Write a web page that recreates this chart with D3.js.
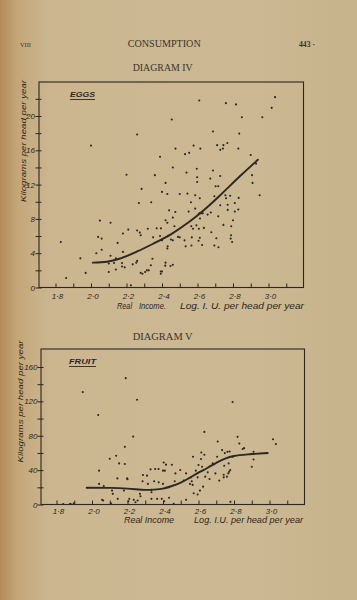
<!DOCTYPE html>
<html><head><meta charset="utf-8">
<script src="https://cdn.jsdelivr.net/npm/d3@7"></script>
<style>
html,body{margin:0;padding:0;background:#cbb791;}
svg{display:block;}
</style></head><body>
<svg id="page" width="357" height="600"></svg>
<script>
// ---------- data ----------
const xMinorTicks = [1.8,1.9,2.0,2.1,2.2,2.3,2.4,2.5,2.6,2.7,2.8,2.9,3.0,3.1];
const xLabelTicks = [1.8,2.0,2.2,2.4,2.6,2.8,3.0];

const eggsYMinor = [0,2,4,6,8,10,12,14,16,18,20,22];
const eggsYLabels = [0,4,8,12,16,20];
const fruitYMinor = [0,20,40,60,80,100,120,140,160];
const fruitYLabels = [0,40,80,120,160];

const eggsPoints = [
[1.83,5.3],[1.86,1.1],[1.94,3.4],[1.97,1.7],[2.03,4.0],[2.05,7.8],[2.04,5.9],[2.06,5.7],[2.06,4.4],[2.10,2.8],
[2.10,1.8],[2.11,3.7],[2.11,7.55],[2.13,2.85],[2.14,2.1],[2.15,5.2],[2.14,3.4],[2.175,2.85],[2.175,2.45],[2.19,2.35],
[2.18,4.15],[2.18,6.3],[2.21,6.75],[2.225,0.25],[2.235,2.7],[2.255,2.9],[2.26,3.1],[2.26,6.65],[2.27,9.85],[2.285,11.5],
[2.275,6.4],[2.28,6.1],[2.28,1.7],[2.29,1.6],[2.305,1.8],[2.315,2.0],[2.325,2.0],
[2.0,16.55],[2.20,13.15],[2.26,17.85],[2.455,19.6],[2.61,21.8],[2.76,21.5],[2.817,21.35],[2.85,19.85],[2.965,19.85],
[3.018,20.95],[3.037,22.2],[2.339,9.95],[2.346,3.35],[2.337,2.6],[2.32,6.85],[2.35,5.85],[2.37,6.9],[2.36,13.1],
[2.389,15.25],[2.394,6.9],[2.389,6.0],[2.40,5.5],[2.393,1.87],[2.40,1.87],[2.393,1.6],[2.40,11.15],[2.42,12.2],
[2.43,10.9],[2.42,7.85],[2.43,7.55],[2.432,4.8],[2.43,4.55],[2.42,2.9],[2.418,2.55],[2.45,5.6],[2.44,9.0],[2.448,2.5],
[2.461,2.65],[2.461,14.0],[2.461,8.15],[2.475,8.8],[2.47,7.15],[2.461,5.5],[2.476,16.2],[2.49,5.9],[2.50,5.85],
[2.50,10.9],[2.53,15.55],[2.553,15.7],[2.538,13.4],[2.543,10.95],[2.527,5.5],[2.533,4.8],[2.55,8.85],[2.563,9.95],
[2.565,7.15],[2.575,6.85],[2.568,5.85],[2.566,4.9],[2.578,16.55],[2.587,10.75],[2.587,9.2],[2.596,13.85],[2.598,12.85],
[2.598,12.3],[2.594,7.25],[2.608,6.85],[2.606,5.45],[2.613,5.8],[2.61,8.65],[2.62,8.65],[2.63,8.65],[2.614,8.05],
[2.616,16.2],[2.613,10.4],[2.626,4.95],[2.636,6.95],[2.657,8.5],[2.675,8.75],[2.672,12.7],[2.678,6.45],[2.687,13.65],
[2.687,18.2],[2.695,10.65],[2.695,4.9],[2.702,11.8],[2.717,11.8],[2.706,5.75],[2.711,16.6],[2.717,8.3],[2.718,4.7],
[2.728,13.0],[2.728,16.05],[2.728,9.6],[2.743,16.2],[2.746,16.6],[2.746,7.3],[2.757,10.75],[2.784,10.7],[2.761,10.4],
[2.768,16.85],[2.77,9.65],[2.77,9.05],[2.789,6.1],[2.787,5.7],[2.79,7.15],[2.80,7.85],[2.795,5.3],[2.81,9.85],
[2.81,8.85],[2.832,10.45],[2.83,9.1],[2.83,16.2],[2.835,17.95],[2.90,15.45],[2.907,13.1],[2.91,12.2],[2.93,14.45],
[2.95,10.75]
];
const eggsCurve = [[2.01,2.9],[2.09,3.0],[2.16,3.35],[2.26,4.2],[2.35,5.1],[2.45,6.2],[2.55,7.6],[2.64,9.1],[2.73,10.8],[2.84,13.0],[2.94,14.9]];

const fruitPoints = [
[1.948,130.8],[2.19,147],[2.254,121.9],[2.035,104.2],[2.792,119.2],[2.232,79],[2.633,84.5],[2.82,78.7],[3.02,76],
[2.83,71],[2.857,65.6],[3.036,70.3],[2.708,73.3],[2.733,63.3],[2.748,59.8],[2.763,61.3],[2.775,61.7],[2.849,64.5],
[2.91,61.3],[2.91,52.4],[2.90,44],[2.792,55.6],[2.616,60.5],[2.633,57.9],[2.614,52.9],[2.569,55.6],[2.60,45.9],
[2.62,44],[2.68,47.8],[2.705,55.6],[2.652,37.4],[2.585,39.4],[2.638,32.4],[2.595,31.6],[2.558,31.6],[2.562,27],
[2.552,24],[2.567,22.8],[2.53,36.2],[2.517,27.8],[2.626,20.8],[2.608,16.2],[2.595,11.6],[2.662,29.7],[2.695,36.2],
[2.717,27.8],[2.742,34.7],[2.742,31.6],[2.76,32.4],[2.768,36.2],[2.773,38.2],[2.779,40.2],[2.77,47.8],[2.745,45.1],
[2.78,3.1],[2.47,36.2],[2.45,46.3],[2.497,40.1],[2.466,27],[2.404,48.8],[2.417,46.4],[2.40,39.4],[2.41,39.4],
[2.375,41.3],[2.356,41.3],[2.33,40.9],[2.31,33.6],[2.287,34.4],[2.285,27],[2.315,24],[2.35,27],[2.376,25.8],[2.40,24],
[2.434,20],[2.335,17],[2.335,14.2],[2.27,12.4],[2.273,9.6],[2.245,2.7],[2.335,6.6],[2.367,6.6],[2.393,6.6],[2.407,3.8],
[2.434,7.8],[2.46,0.8],[2.53,5.4],[2.573,13.1],[2.235,5.4],[2.257,4.6],[2.205,3.8],[2.21,6.6],[2.18,16.2],[2.198,30.4],
[2.20,29.3],[2.185,47.1],[2.153,47.8],[2.185,67.1],[2.136,56.7],[2.10,53.2],[2.143,30.4],[2.113,16.2],[2.117,12.4],
[2.145,6.6],[2.107,1.5],[2.057,5.4],[2.063,4.6],[2.04,39.4],[2.04,24],[2.066,21.6],[1.879,0.8],[1.897,1.5],[1.838,0.5],
[1.876,0.5]
];
const fruitCurve = [[1.97,19.5],[2.1,19.3],[2.2,18.5],[2.3,17],[2.35,17.3],[2.4,18.5],[2.45,21.5],[2.5,25.5],[2.55,31],[2.6,37],[2.65,42.5],[2.7,48.5],[2.75,53.5],[2.8,56.5],[2.9,58.7],[2.99,60]];

// ---------- drawing ----------
const ink = "#2b2722";
const svg = d3.select("#page");
const defs = svg.append("defs");
const grad = defs.append("linearGradient").attr("id","paper").attr("x1","0").attr("x2","1").attr("y1","0").attr("y2","0");
grad.append("stop").attr("offset","0").attr("stop-color","#b38b58");
grad.append("stop").attr("offset","0.05").attr("stop-color","#c4a778");
grad.append("stop").attr("offset","0.14").attr("stop-color","#cbb690");
grad.append("stop").attr("offset","0.7").attr("stop-color","#ccb993");
grad.append("stop").attr("offset","1").attr("stop-color","#c6b28b");
svg.append("rect").attr("width",357).attr("height",600).attr("fill","url(#paper)");

const serif = "'Liberation Serif','DejaVu Serif',serif";
const sans = "'Liberation Sans','DejaVu Sans',sans-serif";

function txt(x,y,s,opts){
  const t = svg.append("text").attr("x",x).attr("y",y).text(s)
    .attr("fill", opts.fill||ink).attr("font-family", opts.family||serif)
    .attr("font-size", opts.size||9).attr("text-anchor", opts.anchor||"start");
  if(opts.italic) t.attr("font-style","italic");
  if(opts.weight) t.attr("font-weight",opts.weight);
  if(opts.len) t.attr("textLength",opts.len).attr("lengthAdjust","spacingAndGlyphs");
  return t;
}

// header
txt(20,46.5,"VIII",{size:7,len:11,fill:"#3a342c"});
txt(127.7,47,"CONSUMPTION",{size:9.5,len:73,fill:"#3a342c"});
txt(299,47,"443 ·",{size:9,len:16,weight:"bold",fill:"#3a342c"});
txt(132.7,70.5,"DIAGRAM IV",{size:9.5,len:60,fill:"#3a342c"});
txt(132.7,339.5,"DIAGRAM V",{size:9.5,len:60,fill:"#3a342c"});

function fmtX(d){ return xLabelTicks.some(v=>Math.abs(v-d)<1e-6) ? d.toFixed(1).replace(".","·") : ""; }

function drawChart(cfg){
  const g = svg.append("g");
  const x = d3.scaleLinear().domain([1.8,3.0]).range([cfg.x18, cfg.x30]);
  const y = d3.scaleLinear().domain([0,cfg.yTop]).range([cfg.y0, cfg.yTopPx]);
  // box
  g.append("rect").attr("x",cfg.left).attr("y",cfg.top)
    .attr("width",cfg.right-cfg.left).attr("height",cfg.y0-cfg.top)
    .attr("fill","none").attr("stroke",ink).attr("stroke-width",1.1);
  // x axis
  const xa = d3.axisBottom(x).tickValues(xMinorTicks).tickSize(-4).tickPadding(cfg.xPad).tickFormat(fmtX);
  const gx = g.append("g").attr("transform",`translate(0,${cfg.y0})`).call(xa);
  gx.select(".domain").remove();
  gx.selectAll("line").attr("stroke",ink).attr("stroke-width",1);
  gx.selectAll("text").attr("fill",ink).attr("font-family",sans).attr("font-size",8)
    .attr("font-style","italic").attr("dx",1.5);
  // y axis
  const ya = d3.axisLeft(y).tickValues(cfg.yMinor).tickSize(6).tickPadding(cfg.yPad)
    .tickFormat(d => cfg.yLabels.includes(d) ? String(d) : "");
  const gy = g.append("g").attr("transform",`translate(${cfg.left+2.5},0)`).call(ya);
  gy.select(".domain").remove();
  gy.selectAll("line").attr("stroke",ink).attr("stroke-width",1);
  gy.selectAll("text").attr("fill",ink).attr("font-family",sans).attr("font-size",8)
    .attr("font-style","italic");
  // points
  g.append("g").selectAll("circle").data(cfg.points).join("circle")
    .attr("cx",d=>x(d[0])).attr("cy",d=>y(d[1])).attr("r",1.05).attr("fill",ink);
  // curve
  const line = d3.line().x(d=>x(d[0])).y(d=>y(d[1])).curve(d3.curveCatmullRom.alpha(0.5));
  g.append("path").datum(cfg.curve).attr("d",line).attr("fill","none")
    .attr("stroke",ink).attr("stroke-width",1.9).attr("stroke-linecap","round");
  // legend name
  txt(cfg.nameX,cfg.nameY,cfg.name,{family:sans,size:8,italic:true,weight:"bold",len:cfg.nameLen});
  g.append("line").attr("x1",cfg.nameX).attr("x2",cfg.nameX+cfg.nameLen)
    .attr("y1",cfg.nameY+2.5).attr("y2",cfg.nameY+2.5).attr("stroke",ink).attr("stroke-width",0.9);
  // y title
  svg.append("text").attr("transform",`translate(${cfg.yTitleX},${cfg.yTitleY}) rotate(-90)`)
    .attr("text-anchor","middle").attr("font-family",sans).attr("font-size",7.8)
    .attr("font-style","italic").attr("fill",ink)
    .attr("textLength",122).attr("lengthAdjust","spacingAndGlyphs")
    .text("Kilograms per head per year");
  // x title pieces
  cfg.xTitle.forEach(p => txt(p[0],cfg.xTitleY,p[1],{family:sans,size:8.5,italic:true,len:p[2]}));
}

drawChart({
  left:39, right:303.5, top:82, y0:287.5,
  x18:55.5, x30:268.5, yTop:20, yTopPx:116,
  xPad:6.2, yPad:0.5,
  yMinor:eggsYMinor, yLabels:eggsYLabels,
  points:eggsPoints, curve:eggsCurve,
  name:"EGGS", nameX:70, nameY:97, nameLen:25,
  yTitleX:26, yTitleY:141,
  xTitleY:309,
  xTitle:[[117,"Real",15],[139,"Income.",27],[180,"Log. I. U. per head per year",124]]
});

drawChart({
  left:41, right:304.5, top:349, y0:504.5,
  x18:56.5, x30:269.5, yTop:160, yTopPx:367,
  xPad:4, yPad:0,
  yMinor:fruitYMinor, yLabels:fruitYLabels,
  points:fruitPoints, curve:fruitCurve,
  name:"FRUIT", nameX:69, nameY:364, nameLen:27,
  yTitleX:22.5, yTitleY:401.5,
  xTitleY:523,
  xTitle:[[124,"Real Income",50],[194,"Log. I.U. per head per year",109]]
});
</script>
</body></html>
